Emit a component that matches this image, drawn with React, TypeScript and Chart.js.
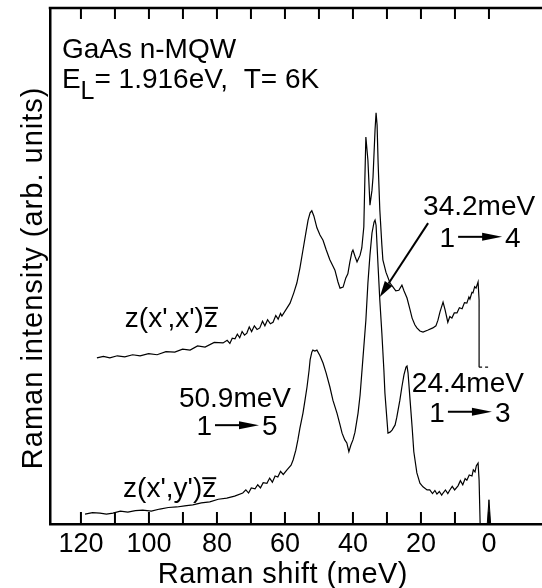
import React, { useEffect, useRef } from "react";
import { Chart, registerables } from "chart.js";

Chart.register(...registerables);

// Raman shift (meV) and intensity (arb. units) for z(x',x')z̄
const xxShift = [115.3, 113.4, 111.5, 109.3, 107.1, 104.8, 102.6, 100.1, 97.6, 95.0, 92.4, 90.1, 87.9, 85.7, 83.5, 80.8, 78.2, 77.0, 76.2, 75.5, 74.7, 74.0, 73.3, 72.6, 71.9, 71.2, 70.5, 69.8, 69.0, 68.2, 67.4, 66.6, 65.9, 65.1, 64.3, 63.5, 62.7, 62.0, 61.3, 60.9, 58.5, 57.4, 56.5, 55.6, 54.7, 53.8, 53.2, 52.6, 52.1, 51.5, 50.6, 49.7, 48.8, 47.9, 46.8, 45.9, 45.3, 44.4, 43.8, 42.9, 42.1, 41.5, 40.9, 40.3, 40.0, 39.4, 38.8, 37.9, 37.4, 36.8, 36.5, 36.2, 35.6, 35.0, 34.4, 34.1, 33.5, 33.2, 32.9, 32.6, 32.1, 31.5, 31.2, 30.3, 29.1, 28.2, 27.4, 26.5, 25.6, 25.0, 24.1, 23.2, 22.6, 21.8, 21.2, 20.3, 19.4, 17.9, 16.5, 15.6, 15.0, 14.4, 13.5, 12.9, 12.1, 11.5, 10.9, 10.2, 9.4, 8.7, 7.9, 7.2, 6.5, 5.9, 5.6, 5.0, 4.7, 4.2, 3.8, 3.2, 2.9, 2.9];
const xxInt = [32.2, 32.5, 32.2, 32.6, 32.4, 32.8, 32.6, 33.0, 32.8, 33.4, 33.3, 33.9, 33.7, 34.5, 34.3, 35.2, 35.1, 35.6, 35.0, 36.0, 35.9, 36.8, 36.1, 37.3, 36.6, 37.0, 38.2, 37.3, 38.4, 37.7, 38.0, 39.3, 38.4, 39.6, 38.8, 39.1, 40.4, 39.7, 40.8, 40.3, 42.8, 44.8, 46.7, 49.6, 53.1, 56.6, 58.9, 60.3, 60.7, 59.7, 57.4, 56.0, 55.0, 53.2, 51.2, 50.0, 49.2, 46.9, 45.7, 45.9, 47.7, 48.5, 50.8, 52.7, 53.1, 51.9, 50.8, 52.1, 53.5, 57.6, 66.7, 75.0, 70.5, 61.8, 64.7, 67.2, 76.4, 79.7, 77.3, 70.0, 60.9, 54.1, 51.2, 48.8, 46.7, 45.9, 45.2, 45.3, 46.3, 45.2, 43.8, 41.5, 39.9, 38.6, 38.0, 37.4, 37.2, 37.6, 38.0, 38.4, 39.5, 41.1, 43.0, 41.5, 39.1, 40.2, 39.9, 40.9, 40.9, 41.9, 41.7, 42.9, 42.8, 44.0, 43.6, 44.9, 44.8, 46.0, 45.7, 46.9, 43.4, 30.4];

// dashed continuation of the upper trace
const xxTailShift = [2.9, -0.3];
const xxTailInt = [30.4, 30.4];

// Raman shift (meV) and intensity (arb. units) for z(x',y')z̄
const xyShift = [118.8, 116.6, 114.4, 112.5, 110.6, 108.4, 106.2, 104.0, 101.8, 99.3, 96.8, 94.3, 91.8, 89.5, 87.1, 84.6, 82.1, 79.6, 77.1, 74.8, 72.4, 71.5, 70.7, 69.9, 68.8, 68.0, 67.2, 66.4, 65.3, 64.5, 63.7, 62.9, 62.1, 61.3, 60.5, 59.4, 58.2, 57.6, 56.8, 56.2, 55.6, 54.7, 54.1, 53.5, 52.9, 52.6, 52.1, 51.8, 51.2, 50.6, 49.7, 48.8, 47.9, 46.8, 45.9, 44.7, 43.8, 43.2, 42.4, 41.8, 41.2, 40.6, 40.0, 39.4, 38.5, 37.9, 37.1, 36.2, 35.6, 35.0, 34.4, 33.8, 33.5, 33.2, 32.6, 32.1, 31.5, 30.9, 30.6, 30.0, 29.7, 29.1, 28.5, 27.6, 27.1, 26.2, 25.6, 25.0, 24.4, 24.1, 23.8, 23.2, 22.6, 22.1, 21.2, 20.3, 19.4, 18.2, 17.4, 16.6, 15.9, 15.3, 14.6, 13.9, 13.5, 12.8, 12.1, 11.5, 10.8, 10.1, 9.1, 8.4, 7.7, 7.0, 6.5, 5.8, 5.0, 4.6, 4.1, 3.7, 3.2, 2.9, 2.6];
const xyInt = [1.9, 2.2, 2.1, 1.9, 2.1, 2.5, 2.3, 2.6, 2.7, 2.5, 2.9, 3.2, 3.3, 3.5, 3.7, 4.1, 4.3, 4.8, 5.0, 5.4, 6.0, 6.6, 6.0, 7.0, 6.8, 7.6, 7.0, 8.0, 7.9, 8.9, 8.1, 9.3, 9.1, 10.2, 9.6, 10.5, 11.4, 12.4, 14.3, 16.3, 18.6, 21.5, 24.0, 26.6, 29.8, 31.8, 33.3, 33.7, 33.5, 33.7, 32.6, 31.2, 29.3, 26.6, 24.0, 21.5, 19.2, 17.6, 16.3, 15.7, 14.0, 15.3, 16.3, 17.8, 21.5, 25.0, 31.8, 39.5, 46.7, 52.1, 56.4, 58.5, 58.9, 57.9, 49.8, 43.4, 37.0, 29.8, 25.4, 20.2, 17.6, 17.8, 18.2, 19.2, 20.7, 24.0, 26.6, 28.9, 30.4, 30.6, 29.3, 24.0, 18.8, 14.0, 9.9, 7.9, 7.2, 6.6, 6.6, 5.9, 6.5, 5.8, 6.3, 5.6, 6.0, 6.6, 5.9, 6.6, 7.3, 6.6, 7.4, 8.4, 7.6, 8.8, 8.5, 9.5, 9.3, 10.5, 10.1, 11.3, 11.8, 8.5, 0.2];

// laser line at zero shift
const laserShift = [0.5, 0, -0.5];
const laserInt = [0, 4.7, 0];

const tickValues = [120, 110, 100, 90, 80, 70, 60, 50, 40, 30, 20, 10, 0];
const tickLabelValues = [120, 100, 80, 60, 40, 20, 0];

const xTitle = "Raman shift (meV)";
const yTitle = "Raman intensity (arb. units)";

const FONT = '"Liberation Sans", Arial, sans-serif';

const pts = (xs: number[], ys: number[]) => xs.map((x, i) => ({ x, y: ys[i] }));

function drawArrowText(ctx: CanvasRenderingContext2D, a: string, b: string, cx: number, base: number, size: number) {
  ctx.font = `${size}px ${FONT}`;
  const wa = ctx.measureText(a).width;
  const wb = ctx.measureText(b).width;
  const arrowLen = 44;
  const gap = 3;
  const total = wa + gap + arrowLen + gap + wb;
  let x = cx - total / 2;
  ctx.textAlign = "left";
  ctx.fillText(a, x, base);
  x += wa + gap;
  const yMid = base - size * 0.36;
  ctx.lineWidth = 2;
  ctx.beginPath();
  ctx.moveTo(x, yMid);
  ctx.lineTo(x + arrowLen - 16, yMid);
  ctx.stroke();
  ctx.beginPath();
  ctx.moveTo(x + arrowLen - 20, yMid - 4);
  ctx.lineTo(x + arrowLen, yMid);
  ctx.lineTo(x + arrowLen - 20, yMid + 4);
  ctx.closePath();
  ctx.fill();
  x += arrowLen + gap;
  ctx.fillText(b, x, base);
}

const decorPlugin = {
  id: "decor",
  afterDraw(chart: any) {
    const { ctx, chartArea, scales } = chart;
    const xs = scales.x;
    const ys = scales.y;
    const X = (v: number) => xs.getPixelForValue(v);
    const Y = (v: number) => ys.getPixelForValue(v);
    ctx.save();
    ctx.strokeStyle = "#000";
    ctx.fillStyle = "#000";
    // top frame line
    ctx.lineWidth = 2.5;
    ctx.beginPath();
    ctx.moveTo(chartArea.left - 1.25, chartArea.top);
    ctx.lineTo(chartArea.right, chartArea.top);
    ctx.stroke();
    // inward ticks
    ctx.lineWidth = 2;
    for (const v of tickValues) {
      const px = X(v);
      ctx.beginPath();
      ctx.moveTo(px, chartArea.bottom);
      ctx.lineTo(px, chartArea.bottom - 12);
      ctx.moveTo(px, chartArea.top);
      ctx.lineTo(px, chartArea.top + 11);
      ctx.stroke();
    }
    // axis titles
    ctx.textBaseline = "alphabetic";
    ctx.font = `29px ${FONT}`;
    ctx.textAlign = "center";
    (ctx as any).letterSpacing = "0.5px";
    ctx.fillText(xTitle, X(60.6), 583);
    ctx.save();
    ctx.translate(42, Y(47.7));
    ctx.rotate(-Math.PI / 2);
    (ctx as any).letterSpacing = "1px";
    ctx.fillText(yTitle, 0, 0);
    ctx.restore();
    (ctx as any).letterSpacing = "0px";

    // header text
    ctx.textAlign = "left";
    ctx.font = `28px ${FONT}`;
    ctx.fillText("GaAs n-MQW", X(125.6), Y(90.3));
    let x0 = X(125.6);
    const b2 = Y(84.5);
    ctx.fillText("E", x0, b2);
    x0 += ctx.measureText("E").width;
    ctx.font = `25px ${FONT}`;
    ctx.fillText("L", x0, b2 + 11);
    x0 += ctx.measureText("L").width;
    ctx.font = `28px ${FONT}`;
    ctx.fillText("= 1.916eV,  T= 6K", x0, b2);

    // polarisation labels
    const pol = (s: string, xv: number, yv: number) => {
      ctx.font = `28px ${FONT}`;
      ctx.textAlign = "left";
      const px = X(xv);
      const py = Y(yv);
      ctx.fillText(s + "z", px, py);
      const wAll = ctx.measureText(s + "z").width;
      const wz = ctx.measureText("z").width;
      ctx.lineWidth = 2;
      ctx.beginPath();
      ctx.moveTo(px + wAll - wz, py - 19);
      ctx.lineTo(px + wAll, py - 19);
      ctx.stroke();
    };
    pol("z(x',x')", 107.1, 38.2);
    pol("z(x',y')", 107.6, 5.2);

    // transition labels
    ctx.textAlign = "center";
    ctx.font = `28px ${FONT}`;
    ctx.fillText("50.9meV", X(74.7), Y(22.7));
    drawArrowText(ctx, "1", "5", X(74.1), Y(17.2), 28);
    ctx.textAlign = "center";
    ctx.font = `28px ${FONT}`;
    ctx.fillText("34.2meV", X(2.9), Y(59.9));
    drawArrowText(ctx, "1", "4", X(2.6), Y(53.7), 28);
    ctx.textAlign = "center";
    ctx.font = `28px ${FONT}`;
    ctx.fillText("24.4meV", X(6.2), Y(25.6));
    drawArrowText(ctx, "1", "3", X(5.6), Y(19.8), 28);

    // pointer arrow to the 34.2 meV peak
    const ax1 = X(17.9), ay1 = Y(58.3), ax2 = X(32.1), ay2 = Y(44.0);
    const ang = Math.atan2(ay2 - ay1, ax2 - ax1);
    const hl = 16, hw = 4.5;
    ctx.lineWidth = 2;
    ctx.beginPath();
    ctx.moveTo(ax1, ay1);
    ctx.lineTo(ax2 - hl * Math.cos(ang), ay2 - hl * Math.sin(ang));
    ctx.stroke();
    ctx.beginPath();
    ctx.moveTo(ax2, ay2);
    ctx.lineTo(ax2 - hl * Math.cos(ang) + hw * Math.sin(ang), ay2 - hl * Math.sin(ang) - hw * Math.cos(ang));
    ctx.lineTo(ax2 - hl * Math.cos(ang) - hw * Math.sin(ang), ay2 - hl * Math.sin(ang) + hw * Math.cos(ang));
    ctx.closePath();
    ctx.fill();
    ctx.restore();
  },
};

export default function App() {
  const ref = useRef<HTMLCanvasElement | null>(null);
  useEffect(() => {
    if (!ref.current) return;
    const line = { borderColor: "#000", borderWidth: 1.2, pointRadius: 0, fill: false, tension: 0 };
    const chart = new Chart(ref.current, {
      type: "line",
      data: {
        datasets: [
          { ...line, label: "z(x',x')z̄", data: pts(xxShift, xxInt) },
          { ...line, label: "tail", data: pts(xxTailShift, xxTailInt), borderDash: [3, 3] },
          { ...line, label: "z(x',y')z̄", data: pts(xyShift, xyInt) },
          { ...line, label: "laser", data: pts(laserShift, laserInt), fill: "origin", backgroundColor: "#000", borderWidth: 1 },
        ] as any,
      },
      options: {
        animation: false,
        responsive: true,
        maintainAspectRatio: false,
        layout: { padding: { top: 8, left: 0, right: 0, bottom: 0 } },
        plugins: { legend: { display: false }, tooltip: { enabled: false } },
        scales: {
          x: {
            type: "linear",
            reverse: true,
            min: -15.6,
            max: 129.1,
            afterBuildTicks: (s: any) => {
              s.ticks = tickLabelValues.map((v) => ({ value: v }));
            },
            afterFit: (s: any) => {
              s.height = 64;
            },
            grid: { display: false },
            border: { display: true, width: 2.5, color: "#000" },
            ticks: { color: "#000", font: { family: FONT, size: 27 }, padding: -4, maxRotation: 0, autoSkip: false },
          },
          y: {
            min: 0,
            max: 100,
            afterFit: (s: any) => {
              s.width = 50;
            },
            ticks: { display: false },
            grid: { display: false },
            border: { display: true, width: 2.5, color: "#000" },
          },
        },
      } as any,
      plugins: [decorPlugin],
    });
    return () => chart.destroy();
  }, []);
  return (
    <div style={{ position: "fixed", left: 0, top: 0, width: 542, height: 588, background: "#fff" }}>
      <canvas ref={ref} />
    </div>
  );
}
